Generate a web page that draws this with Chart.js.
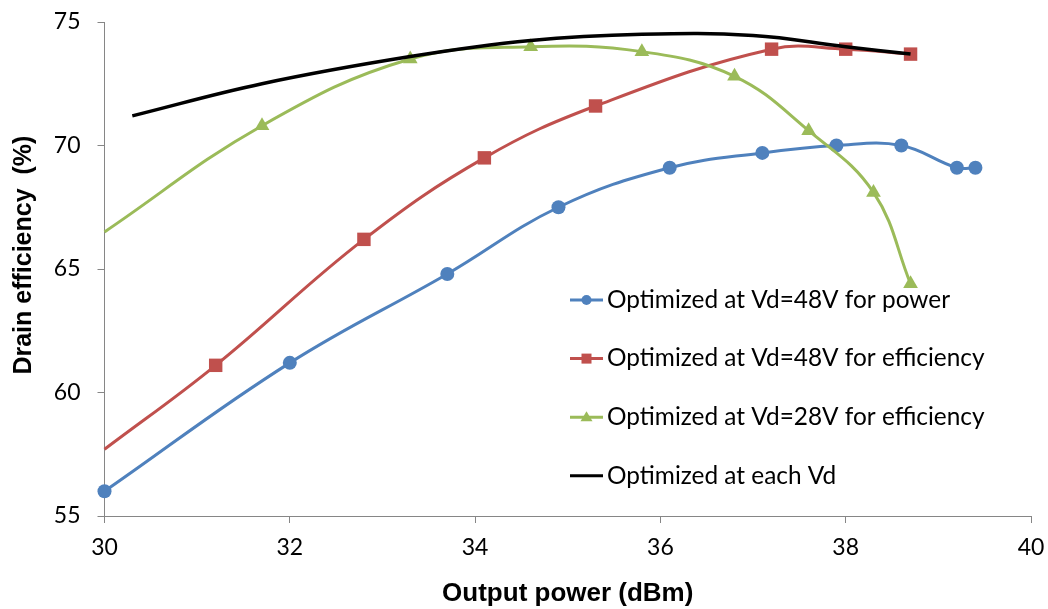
<!DOCTYPE html>
<html>
<head>
<meta charset="utf-8">
<script src="https://cdn.jsdelivr.net/npm/chart.js@4/dist/chart.umd.min.js"></script>
<style>
  html, body { margin:0; padding:0; background:#fff; }
  #wrap { width:1048px; height:609px; position:relative; }
</style>
</head>
<body>
<div id="wrap"><canvas id="c"></canvas></div>
<script>
// Output power (dBm) / drain efficiency (%)
const xPower   = [30, 32, 33.7, 34.9, 36.1, 37.1, 37.9, 38.6, 39.2, 39.4];
const effPower = [56.0, 61.2, 64.8, 67.5, 69.1, 69.7, 70.0, 70.0, 69.1, 69.1];

const xEff48   = [30, 31.2, 32.8, 34.1, 35.3, 37.2, 38.0, 38.7];
const eff48    = [57.7, 61.1, 66.2, 69.5, 71.6, 73.9, 73.9, 73.7];

const xEff28   = [30, 31.7, 33.3, 34.6, 35.8, 36.8, 37.6, 38.3, 38.7];
const eff28    = [66.5, 70.8, 73.5, 74.0, 73.8, 72.8, 70.6, 68.1, 64.4];

const xEach    = [30.3, 31.7, 33.3, 34.6, 35.8, 37.0, 38.0, 38.7];
const effEach  = [71.2, 72.5, 73.6, 74.25, 74.5, 74.45, 74.0, 73.7];

const seriesNames = [
  'Optimized at Vd=48V for power',
  'Optimized at Vd=48V for efficiency',
  'Optimized at Vd=28V for efficiency',
  'Optimized at each Vd'
];
const xTicks = [30, 32, 34, 36, 38, 40];
const yTicks = [55, 60, 65, 70, 75];

const pts = (xs, ys) => xs.map((x, i) => ({ x, y: ys[i] }));
// first point of the red/green curves sits on the axis edge without a marker
const hideFirst = (n, r) => Array.from({ length: n }, (_, i) => i === 0 ? 0 : r);

const TICK_FONT = { family: 'Lato, "Open Sans", sans-serif', size: 23 };
const TITLE_FAMILY = '"Liberation Sans", Arial, sans-serif';
const AXIS_GRAY = '#868686';

// Legend drawn inside the plot, like the original
const legendBox = {
  id: 'legendBox',
  afterDraw(chart) {
    const ctx = chart.ctx;
    const x0 = 570, x1 = 603, tx = 607, y0 = 300, dy = 58.6;
    ctx.save();
    chart.data.datasets.forEach((ds, i) => {
      const y = y0 + i * dy;
      ctx.strokeStyle = ds.borderColor;
      ctx.lineWidth = 3;
      ctx.beginPath(); ctx.moveTo(x0, y); ctx.lineTo(x1, y); ctx.stroke();
      const mx = (x0 + x1) / 2;
      ctx.fillStyle = ds.backgroundColor;
      if (ds.pointStyle === 'circle') {
        ctx.beginPath(); ctx.arc(mx, y, 5, 0, Math.PI * 2); ctx.fill();
      } else if (ds.pointStyle === 'rect') {
        ctx.fillRect(mx - 5, y - 5, 10, 10);
      } else if (ds.pointStyle === 'triangle') {
        ctx.beginPath(); ctx.moveTo(mx, y - 6); ctx.lineTo(mx + 6, y + 4); ctx.lineTo(mx - 6, y + 4); ctx.closePath(); ctx.fill();
      }
      ctx.fillStyle = '#000';
      ctx.font = '24.4px Lato, "Open Sans", sans-serif';
      ctx.textBaseline = 'middle';
      ctx.textAlign = 'left';
      ctx.fillText(seriesNames[i], tx, y);
    });
    ctx.restore();
  }
};

const mkSet = (label, data, color, style, radius, order) => ({
  label, data,
  borderColor: color, backgroundColor: color,
  borderWidth: 3, showLine: true, tension: 0.4,
  pointStyle: style, pointRadius: radius, pointHoverRadius: radius,
  pointBorderWidth: 0, clip: false, order
});

new Chart(document.getElementById('c'), {
  type: 'scatter',
  data: {
    datasets: [
      mkSet(seriesNames[0], pts(xPower, effPower), '#4F81BD', 'circle', 7, 3),
      mkSet(seriesNames[1], pts(xEff48, eff48), '#C0504D', 'rect', hideFirst(xEff48.length, 9.5), 2),
      mkSet(seriesNames[2], pts(xEff28, eff28), '#9BBB59', 'triangle', hideFirst(xEff28.length, 8.5), 1),
      Object.assign(mkSet(seriesNames[3], pts(xEach, effEach), '#000000', false, 0, 0), { borderWidth: 3.5 })
    ]
  },
  options: {
    responsive: true, maintainAspectRatio: false, animation: false,
    layout: { autoPadding: false, padding: { top: 22, right: 17, left: 0, bottom: 0 } },
    plugins: { legend: { display: false }, tooltip: { enabled: false } },
    scales: {
      x: {
        type: 'linear', min: 30, max: 40,
        afterBuildTicks: s => { s.ticks = xTicks.map(v => ({ value: v })); },
        afterFit: s => { s.height = 93; s.paddingLeft = 0; s.paddingRight = 0; },
        ticks: { font: TICK_FONT, color: '#000', padding: 11 },
        grid: { drawOnChartArea: false, drawTicks: true, tickLength: 7, color: AXIS_GRAY },
        border: { color: AXIS_GRAY },
        title: { display: true, text: 'Output power (dBm)', font: { family: TITLE_FAMILY, size: 26, weight: 'bold' }, color: '#000', padding: 0 }
      },
      y: {
        min: 55, max: 75,
        afterBuildTicks: s => { s.ticks = yTicks.map(v => ({ value: v })); },
        afterFit: s => { s.width = 104.5; s.paddingTop = 0; s.paddingBottom = 0; },
        ticks: { font: TICK_FONT, color: '#000', padding: 17 },
        grid: { drawOnChartArea: false, drawTicks: true, tickLength: 7, color: AXIS_GRAY },
        border: { color: AXIS_GRAY },
        // leading spaces nudge the title up, as in the original layout
        title: { display: true, text: '    Drain efficiency  (%)', font: { family: TITLE_FAMILY, size: 25, weight: 'bold', lineHeight: 1.92 }, color: '#000', padding: 0 }
      }
    }
  },
  plugins: [legendBox]
});
</script>
</body>
</html>
